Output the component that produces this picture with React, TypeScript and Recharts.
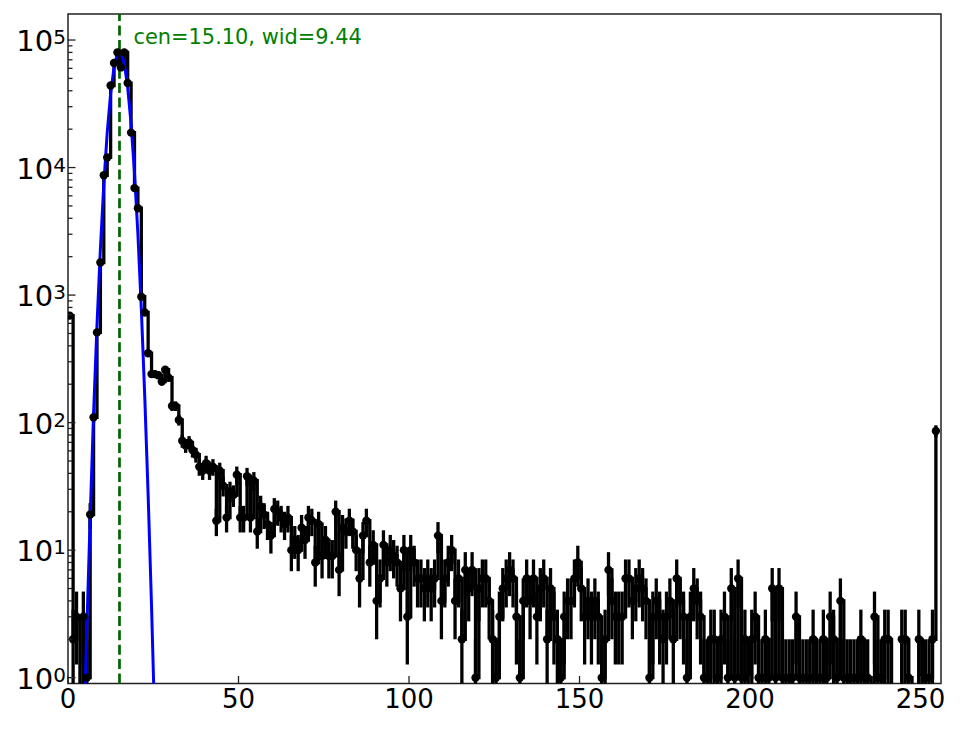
import React from 'react';
import { ComposedChart, Line, XAxis, YAxis, ErrorBar, ReferenceLine, ReferenceArea } from 'recharts';

// Histogram counts per bin (bin i is centred at i + 0.5)
const counts = [
  690, 2, 3, 0, 3, 1, 19, 110, 510, 1800,
  8700, 12000, 44000, 66000, 80000, 61000, 80000, 46000, 18800, 6900,
  4800, 970, 730, 350, 240, 240, 235, 210, 260, 225,
  135, 135, 105, 72, 66, 70, 61, 56, 45, 42,
  48, 42, 45, 17, 42, 32, 18, 29, 27, 39,
  18, 18, 38, 18, 35, 14, 22, 19, 16, 13,
  21, 20, 18, 16, 18, 10, 12, 10, 15, 12,
  18, 17, 8, 16, 9, 12, 9, 9, 20, 7,
  15, 14, 17, 14, 10, 6, 13, 17, 8, 11,
  4, 6, 11, 8, 10, 9, 8, 5, 10, 3,
  10, 8, 6, 6, 5, 6, 5, 6, 13, 4,
  6, 8, 10, 4, 6, 2, 7, 5, 7, 1,
  5, 6, 6, 4, 2, 1, 3, 5, 6, 7,
  6, 3, 1, 4, 6, 4, 6, 3, 5, 6,
  2, 5, 3, 2, 1, 3, 4, 4, 6, 8,
  5, 3, 4, 3, 4, 3, 1, 2, 7, 4,
  3, 3, 3, 6, 6, 4, 5, 6, 5, 4,
  1, 3, 4, 3, 2, 3, 4, 2, 6, 4,
  3, 1, 3, 5, 4, 3, 1, 1, 2, 2,
  1, 2, 3, 1, 5, 1, 6, 1, 2, 1,
  2, 3, 1, 1, 2, 1, 5, 1, 5, 1,
  1, 1, 1, 3, 1, 1, 1, 1, 2, 1,
  1, 2, 1, 3, 2, 1, 4, 1, 1, 1,
  1, 1, 2, 1, 1, 0, 3, 1, 1, 2,
  2, 0, 0, 0, 2, 2, 1, 0, 0, 2,
  1, 1, 1, 2, 86,
];

// Gaussian fit curve values, read at bin centres starting at bin 3
const fitStartBin = 3;
const fitValues = [
  0.019, 0.23, 2.3, 18, 116, 580, 2300, 7400, 18800, 38000,
  61000, 79000, 80500, 65600, 42600, 22000, 9100, 3000, 780, 162,
  27, 3.6, 0.38, 0.03,
];

const fitCenter = 15.1;
const fitLabel = 'cen=15.10, wid=9.44';

const xTicks = [0, 50, 100, 150, 200, 250];
const yDecades = [1, 10, 100, 1000, 10000, 100000];
const yMinorSteps = [2, 3, 4, 5, 6, 7, 8, 9];

const X_MIN = 0;
const X_MAX = 256;
const Y_MIN = 0.9;
const Y_MAX = 160000;
const ZERO_FLOOR = 0.05;
const FONT = 'DejaVu Sans';

const yTicks: number[] = [];
yDecades.forEach((d) => {
  yTicks.push(d);
  yMinorSteps.forEach((k) => {
    if (d * k <= Y_MAX) yTicks.push(d * k);
  });
});

const rows = counts.map((n, i) => {
  const e = Math.sqrt(n);
  const low = n > 0 ? n - Math.max(n - e, Y_MIN) : 0;
  const fi = i - fitStartBin;
  return {
    x: i + 0.5,
    n,
    y: n > 0 ? n : ZERO_FLOOR,
    err: [low, n > 0 ? e : 0],
    fit: fi >= 0 && fi < fitValues.length ? fitValues[fi] : null,
  };
});

const isDecade = (v: number) => {
  const p = Math.round(Math.log10(v));
  return Math.abs(v - Math.pow(10, p)) < 1e-6 * v;
};

const YTick = (props: any) => {
  const { x, y, payload } = props;
  const v = payload.value;
  const major = isDecade(v);
  const p = Math.round(Math.log10(v));
  return (
    <g>
      <line x1={x} x2={x + (major ? 7.5 : 4.5)} y1={y} y2={y} stroke="#222" strokeWidth={1.3} />
      {major && (
        <text x={x - 2} y={y + 11.3} textAnchor="end" fontFamily={FONT} fill="#000">
          <tspan fontSize={29}>10</tspan>
          <tspan fontSize={20} dy={-7}>{p}</tspan>
        </text>
      )}
    </g>
  );
};

const XTick = (props: any) => {
  const { x, y, payload } = props;
  return (
    <g>
      <line x1={x} x2={x} y1={y} y2={y - 7.5} stroke="#222" strokeWidth={1.3} />
      <text x={x} y={y + 24} textAnchor="middle" fontSize={26} fontFamily={FONT} fill="#000">
        {payload.value}
      </text>
    </g>
  );
};

const CenLabel = (props: any) => {
  const vb = props.viewBox || { x: 0, y: 0 };
  return (
    <text x={vb.x + 14} y={vb.y + 29.5} fill="#008000" fontSize={20.9} fontFamily={FONT}>
      {fitLabel}
    </text>
  );
};

const renderDot = (props: any) => {
  const { cx, cy, payload, index } = props;
  if (!payload || payload.n <= 0 || cx == null || cy == null) return <g key={`d-${index}`} />;
  return <circle key={`d-${index}`} cx={cx} cy={cy} r={4.2} fill="#000" stroke="none" />;
};

export default function App() {
  return (
    <div style={{ position: 'absolute', left: 0, top: 0, width: 964, height: 729, background: '#fff', fontFamily: FONT }}>
      <ComposedChart width={964} height={729} data={rows} margin={{ top: 14, right: 23, bottom: 0.5, left: 0 }}>
        <XAxis
          type="number"
          dataKey="x"
          domain={[X_MIN, X_MAX]}
          ticks={xTicks}
          interval={0}
          allowDataOverflow
          axisLine={false}
          tickLine={false}
          tickSize={0}
          tickMargin={0}
          height={45}
          tick={<XTick />}
        />
        <YAxis
          type="number"
          scale="log"
          domain={[Y_MIN, Y_MAX]}
          ticks={yTicks}
          interval={0}
          allowDataOverflow
          axisLine={false}
          tickLine={false}
          tickSize={0}
          tickMargin={0}
          width={68}
          tick={<YTick />}
        />
        <ReferenceLine
          x={fitCenter}
          stroke="#006400"
          strokeWidth={2.7}
          strokeDasharray="10 4.4"
          label={<CenLabel />}
        />
        <Line
          dataKey="y"
          type="stepAfter"
          stroke="#000"
          strokeWidth={3.3}
          dot={false}
          activeDot={false}
          isAnimationActive={false}
        >
          <ErrorBar dataKey="err" direction="y" width={0} stroke="#000" strokeWidth={3.3} isAnimationActive={false} />
        </Line>
        <Line
          dataKey="fit"
          type="linear"
          stroke="#0000ff"
          strokeWidth={3}
          dot={false}
          activeDot={false}
          isAnimationActive={false}
        />
        <Line
          dataKey="y"
          type="linear"
          stroke="none"
          dot={renderDot}
          activeDot={false}
          isAnimationActive={false}
        />
        <ReferenceArea
          x1={X_MIN}
          x2={X_MAX}
          y1={Y_MIN}
          y2={Y_MAX}
          fill="none"
          stroke="#222"
          strokeWidth={1.5}
          ifOverflow="visible"
        />
      </ComposedChart>
    </div>
  );
}
